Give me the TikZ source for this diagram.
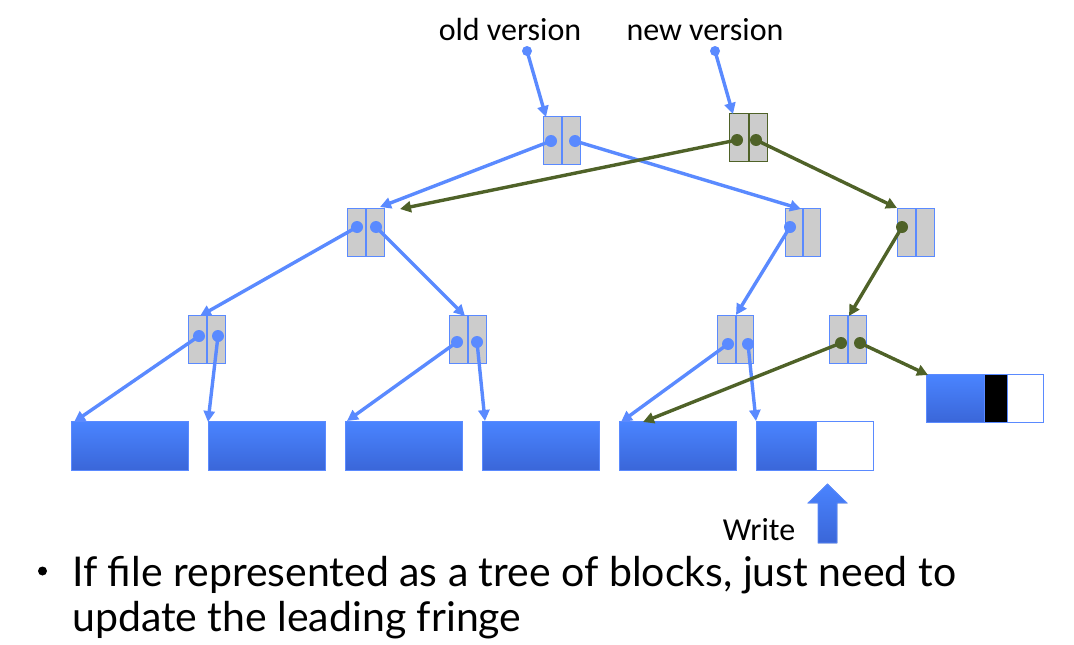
\documentclass[tikz,border=0pt]{standalone}
\usepackage{fontspec}
\setmainfont{Carlito}
\newfontfamily\bulletfont{Lato}
\usetikzlibrary{arrows.meta,calc}
\definecolor{bl}{HTML}{5A8AFF}
\definecolor{gr}{HTML}{4F6228}
\definecolor{gy}{HTML}{CCCCCC}
\definecolor{lt}{HTML}{4A84FF}
\definecolor{lb}{HTML}{3A66D8}
\tikzset{
  inode/.style={draw=bl,line width=1.4pt,fill=gy,minimum width=37pt,minimum height=48pt,inner sep=0pt,anchor=north west},
  leaf/.style={draw=bl,line width=1.4pt,top color=lt,bottom color=lb,minimum width=117pt,minimum height=49pt,inner sep=0pt,anchor=north west},
  wbox/.style={draw=bl,line width=1.4pt,fill=white,inner sep=0pt,anchor=north west},
  dotb/.style={circle,fill=bl,inner sep=0pt,minimum size=12pt},
  dotg/.style={circle,fill=gr,inner sep=0pt,minimum size=12pt},
  barrow/.style={draw=bl,line width=3.4pt,-{Triangle[length=11pt,width=11pt]}},
  garrow/.style={draw=gr,line width=3.4pt,-{Triangle[length=11pt,width=11pt]}},
  lbl/.style={font=\fontsize{32}{38}\selectfont,inner sep=0pt},
  divb/.style={draw=bl,line width=2.4pt},
  btext/.style={font=\bulletfont\fontsize{41}{48}\selectfont,anchor=base west,inner sep=0pt},
}
\begin{document}
\begin{tikzpicture}[x=1pt,y=-1pt]
\useasboundingbox (0,0) rectangle (1074,645);
% labels
\node[lbl,anchor=base] (oldv) at (510,40) {old version};
\node[lbl,anchor=base] (newv) at (705,40) {new version};
\node[dotb,minimum size=10pt] (oldd) at (527,51) {};
\node[dotb,minimum size=10pt] (newd) at (715,51) {};
% internal nodes
\node[inode] (R1) at (543,116) {};
\draw[divb] (R1.north) -- (R1.south);
\node[inode,draw=gr,minimum width=38pt] (R2) at (729,113) {};
\draw[divb,draw=gr] (R2.north) -- (R2.south);
\node[inode] (A) at (347,208) {};
\draw[divb] (A.north) -- (A.south);
\node[inode,minimum width=35pt] (B) at (785,208) {};
\draw[divb] (B.north) -- (B.south);
\node[inode] (C) at (897,208) {};
\draw[divb] (C.north) -- (C.south);
\node[inode] (D) at (188,315) {};
\draw[divb] (D.north) -- (D.south);
\node[inode] (E) at (449,315) {};
\draw[divb] (E.north) -- (E.south);
\node[inode,minimum width=36pt] (F) at (717,315) {};
\draw[divb] (F.north) -- (F.south);
\node[inode] (G) at (829,315) {};
\draw[divb] (G.north) -- (G.south);
% leaves
\node[leaf] (L1) at (71,421) {};
\node[leaf] (L2) at (208,421) {};
\node[leaf] (L3) at (345,421) {};
\node[leaf] (L4) at (482,421) {};
\node[leaf] (L5) at (619,421) {};
\node[leaf,minimum width=60pt] (L6) at (756,421) {};
\node[wbox,minimum width=57pt,minimum height=49pt] (L6w) at (816,421) {};
\node[leaf,minimum width=58pt,minimum height=48pt] (N1) at (926,374) {};
\node[draw=bl,line width=1.4pt,fill=black,minimum width=23pt,minimum height=48pt,inner sep=0pt,anchor=north west] (N1b) at (984,374) {};
\node[wbox,minimum width=36pt,minimum height=48pt] (N1w) at (1007,374) {};
% dots
\node[dotb] (r1a) at (551,141) {};
\node[dotb] (r1b) at (575,141) {};
\node[dotg] (r2a) at (737,140) {};
\node[dotg] (r2b) at (756,140) {};
\node[dotb] (aa) at (357,227) {};
\node[dotb] (ab) at (376,227) {};
\node[dotb] (ba) at (790,227) {};
\node[dotg] (ca) at (902,227) {};
\node[dotb] (da) at (199,336) {};
\node[dotb] (db) at (218,336) {};
\node[dotb] (ea) at (457,342) {};
\node[dotb] (eb) at (477,342) {};
\node[dotb] (fa) at (728,344) {};
\node[dotb] (fb) at (748,344) {};
\node[dotg] (ga) at (841,343) {};
\node[dotg] (gb) at (860,343) {};
% end points
\coordinate (tR1) at (546,117);
\coordinate (tR2) at (733,114);
\coordinate (tAb) at (380,207);
\coordinate (tAg) at (400,209);
\coordinate (tB) at (801,209);
\coordinate (tC) at (897,208);
\coordinate (tD) at (200,316);
\coordinate (tE) at (465,316);
\coordinate (tF) at (736,315);
\coordinate (tG) at (849,316);
\coordinate (tL1) at (74,422);
\coordinate (tL2) at (208,422);
\coordinate (tL3) at (347,421);
\coordinate (tL4) at (485,421);
\coordinate (tL5) at (621,422);
\coordinate (tL5g) at (643,422);
\coordinate (tL6) at (756,421);
\coordinate (tN1) at (928,375);
% connectors
\draw[barrow] (oldd.center) -- (tR1);
\draw[barrow] (newd.center) -- (tR2);
\draw[barrow] (r1a.center) -- (tAb);
\draw[barrow] (r1b.center) -- (tB);
\draw[barrow] (aa.center) -- (tD);
\draw[barrow] (ab.center) -- (tE);
\draw[barrow] (ba.center) -- (tF);
\draw[barrow] (da.center) -- (tL1);
\draw[barrow] (db.center) -- (tL2);
\draw[barrow] (ea.center) -- (tL3);
\draw[barrow] (eb.center) -- (tL4);
\draw[barrow] (fa.center) -- (tL5);
\draw[barrow] (fb.center) -- (tL6);
\draw[garrow] (r2a.center) -- (tAg);
\draw[garrow] (r2b.center) -- (tC);
\draw[garrow] (ca.center) -- (tG);
\draw[garrow] (ga.center) -- (tL5g);
\draw[garrow] (gb.center) -- (tN1);
% write arrow
\node[lbl,anchor=base] (wr) at (759,540) {Write};
\filldraw[draw=bl,line width=0.8pt,top color=lt,bottom color=lb] (818,543) -- (818,503) -- (808,503) -- (827.5,484) -- (847,503) -- (837,503) -- (837,543) -- cycle;
% bullet text
\node[circle,fill=black,inner sep=0pt,minimum size=9pt] (bul) at (42.5,571) {};
\node[btext] (t1) at (72,586) {If file represented as a tree of blocks, just need to};
\node[btext] (t2) at (72,631) {update the leading fringe};
\end{tikzpicture}
\end{document}
